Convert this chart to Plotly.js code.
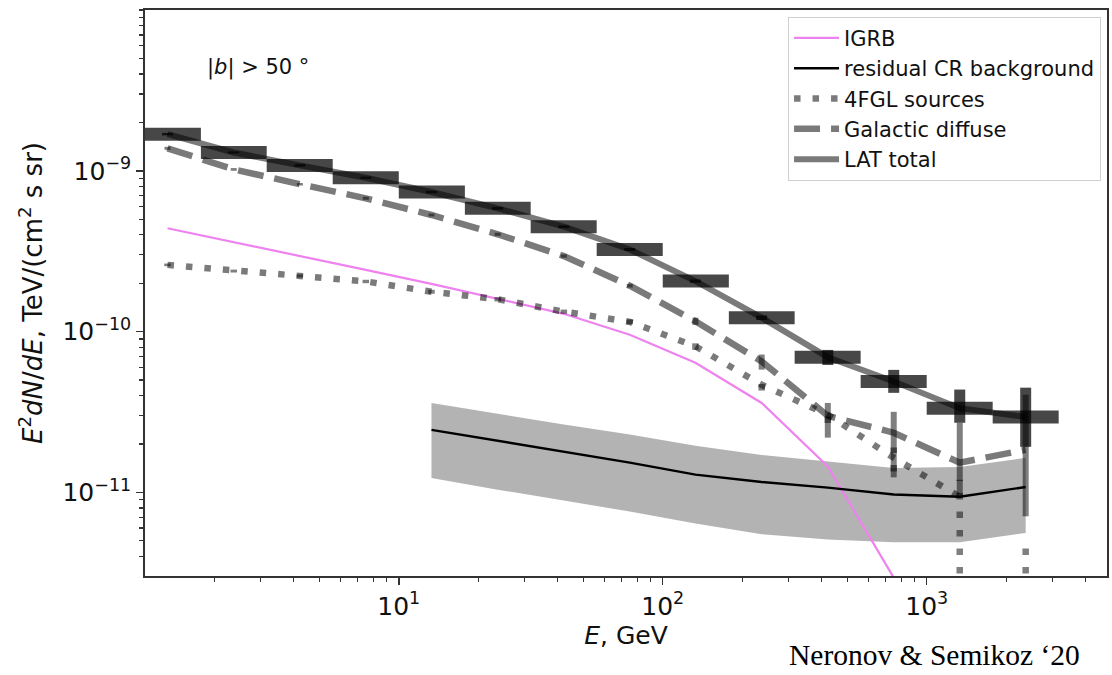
<!DOCTYPE html>
<html>
<head>
<meta charset="utf-8">
<script src="https://cdn.plot.ly/plotly-3.0.1.min.js"></script>
<style>html,body{margin:0;padding:0;background:#fff;}#chart{width:1112px;height:675px;}</style>
</head>
<body>
<div id="chart"></div>
<script>
// Energy bins (GeV): centres and bin edges
const E      = [1.33, 2.37, 4.22, 7.50, 13.3, 23.7, 42.2, 75.0, 133, 237, 422, 750, 1334, 2371];
const binLo  = [1.00, 1.78, 3.16, 5.62, 10.0, 17.8, 31.6, 56.2, 100, 178, 316, 562, 1000, 1778];
const binHi  = [1.78, 3.16, 5.62, 10.0, 17.8, 31.6, 56.2, 100, 178, 316, 562, 1000, 1778, 3162];

// LAT total
const latTotal = [1.69e-9, 1.30e-9, 1.08e-9, 9.05e-10, 7.38e-10, 5.84e-10, 4.49e-10, 3.24e-10, 2.06e-10, 1.22e-10, 6.93e-11, 4.89e-11, 3.34e-11, 2.94e-11];
const latLo    = [1.66e-9, 1.28e-9, 1.06e-9, 8.90e-10, 7.25e-10, 5.73e-10, 4.40e-10, 3.17e-10, 2.01e-10, 1.18e-10, 6.20e-11, 4.16e-11, 2.71e-11, 1.92e-11];
const latHi    = [1.72e-9, 1.32e-9, 1.10e-9, 9.20e-10, 7.51e-10, 5.95e-10, 4.58e-10, 3.31e-10, 2.11e-10, 1.26e-10, 7.69e-11, 5.78e-11, 4.36e-11, 4.48e-11];

// Galactic diffuse
const galDiff = [1.38e-9, 1.02e-9, 8.26e-10, 6.74e-10, 5.31e-10, 4.03e-10, 2.95e-10, 1.93e-10, 1.16e-10, 6.52e-11, 2.99e-11, 2.35e-11, 1.53e-11, 1.84e-11];
const galLo   = [1.35e-9, 1.00e-9, 8.10e-10, 6.60e-10, 5.20e-10, 3.94e-10, 2.88e-10, 1.88e-10, 1.10e-10, 5.80e-11, 2.19e-11, 1.24e-11, 9.4e-12, 7.1e-12];
const galHi   = [1.41e-9, 1.04e-9, 8.40e-10, 6.90e-10, 5.42e-10, 4.12e-10, 3.02e-10, 1.98e-10, 1.22e-10, 7.20e-11, 3.60e-11, 3.17e-11, 2.71e-11, 4.05e-11];

// 4FGL sources
const fgl   = [2.60e-10, 2.38e-10, 2.22e-10, 2.05e-10, 1.77e-10, 1.59e-10, 1.33e-10, 1.15e-10, 8.1e-11, 4.67e-11, 3.04e-11, 1.64e-11, 9.4e-12, null];
const fglLo = [2.55e-10, 2.33e-10, 2.17e-10, 2.00e-10, 1.72e-10, 1.54e-10, 1.29e-10, 1.11e-10, 7.7e-11, 4.30e-11, 2.70e-11, 1.35e-11, 1e-13, 1e-13];
const fglHi = [2.65e-10, 2.43e-10, 2.27e-10, 2.10e-10, 1.82e-10, 1.64e-10, 1.37e-10, 1.19e-10, 8.5e-11, 5.00e-11, 3.40e-11, 1.90e-11, 1.2e-11, 5.3e-12];

// IGRB
const igrbE = [1.33, 2.37, 4.22, 7.50, 13.3, 23.7, 42.2, 75.0, 133, 237, 422, 750];
const igrb  = [4.39e-10, 3.61e-10, 2.95e-10, 2.42e-10, 1.98e-10, 1.60e-10, 1.29e-10, 9.55e-11, 6.4e-11, 3.6e-11, 1.45e-11, 2.95e-12];

// Residual CR background
const crE  = [13.3, 23.7, 42.2, 75.0, 133, 237, 422, 750, 1334, 2371];
const cr   = [2.45e-11, 2.09e-11, 1.79e-11, 1.53e-11, 1.29e-11, 1.16e-11, 1.07e-11, 9.7e-12, 9.4e-12, 1.08e-11];
const crLo = [1.23e-11, 1.04e-11, 8.9e-12, 7.6e-12, 6.4e-12, 5.5e-12, 5.1e-12, 4.9e-12, 4.9e-12, 5.6e-12];
const crHi = [3.60e-11, 3.08e-11, 2.64e-11, 2.29e-11, 1.95e-11, 1.71e-11, 1.55e-11, 1.42e-11, 1.44e-11, 1.64e-11];

// Tick labels
const xTickVals = [10, 100, 1000];
const xTickText = ['10<sup>1</sup>', '10<sup>2</sup>', '10<sup>3</sup>'];
const yTickVals = [1e-11, 1e-10, 1e-9];
const yTickText = ['10<sup>\u221211</sup>', '10<sup>\u221210</sup>', '10<sup>\u22129</sup>'];

function segments(xs, lo, hi) {
  const x = [], y = [];
  for (let i = 0; i < xs.length; i++) {
    if (lo[i] == null || hi[i] == null) continue;
    x.push(xs[i], xs[i], null);
    y.push(lo[i], hi[i], null);
  }
  return {x, y};
}

const galSeg = segments(E, galLo, galHi);
const fglSeg = segments(E, fglLo, fglHi);

const traces = [
  // residual CR band
  {x: crE, y: crLo, mode: 'lines', line: {width: 0, color: 'rgba(0,0,0,0)'}, showlegend: false, hoverinfo: 'skip'},
  {x: crE, y: crHi, mode: 'lines', line: {width: 0, color: 'rgba(0,0,0,0)'}, fill: 'tonexty', fillcolor: 'rgb(179,179,179)', showlegend: false, hoverinfo: 'skip'},
  // IGRB
  {x: igrbE, y: igrb, mode: 'lines', name: 'IGRB', line: {color: '#EE82EE', width: 2.2}, legendgroup: 'g1'},
  // residual CR line
  {x: crE, y: cr, mode: 'lines', name: 'residual CR background', line: {color: '#000', width: 2.4}, legendgroup: 'g2'},
  // 4FGL
  {x: fglSeg.x, y: fglSeg.y, mode: 'lines', line: {color: 'rgba(0,0,0,0.5)', width: 6.5, dash: '6.5px,12px'}, showlegend: false, hoverinfo: 'skip', legendgroup: 'g3'},
  {x: E, y: fgl, mode: 'lines', name: '4FGL sources', line: {color: 'rgba(0,0,0,0.52)', width: 6.5, dash: '6.5px,12px'}, legendgroup: 'g3'},
  // Galactic diffuse
  {x: galSeg.x, y: galSeg.y, mode: 'lines', line: {color: 'rgba(0,0,0,0.5)', width: 6}, showlegend: false, hoverinfo: 'skip', legendgroup: 'g4'},
  {x: E, y: galDiff, mode: 'lines', name: 'Galactic diffuse', line: {color: 'rgba(0,0,0,0.52)', width: 6.5, dash: '26px,11px'}, legendgroup: 'g4'},
  // LAT total
  {x: E, y: latTotal, mode: 'lines', name: 'LAT total', line: {color: 'rgba(0,0,0,0.52)', width: 6}, legendgroup: 'g5',
   error_x: {type: 'data', symmetric: false, array: E.map((e, i) => binHi[i] - e), arrayminus: E.map((e, i) => e - binLo[i]), thickness: 13, width: 0, color: 'rgba(0,0,0,0.72)'},
   error_y: {type: 'data', symmetric: false, array: latTotal.map((v, i) => latHi[i] - v), arrayminus: latTotal.map((v, i) => v - latLo[i]), thickness: 11, width: 0, color: 'rgba(0,0,0,0.72)'}}
];

const axisCommon = {
  showgrid: false, zeroline: false, showline: true, linecolor: '#333', linewidth: 1.8, mirror: true,
  ticks: 'outside', ticklen: 7, tickwidth: 1.5, tickcolor: '#333', tickmode: 'array',
  tickfont: {size: 25, family: 'DejaVu Sans', color: '#111'},
  minor: {ticks: 'outside', ticklen: 4, tickwidth: 1.2, tickcolor: '#333', dtick: 'D1', showgrid: false}
};

const layout = {
  width: 1112, height: 675,
  margin: {l: 145, r: 5, t: 10, b: 99},
  paper_bgcolor: '#fff', plot_bgcolor: '#fff',
  font: {family: 'DejaVu Sans', color: '#111', size: 20},
  xaxis: Object.assign({}, axisCommon, {
    type: 'log', range: [0.0386, 3.683], tickvals: xTickVals, ticktext: xTickText,
    title: {text: '<i>E</i>, GeV', font: {size: 25}, standoff: 4}
  }),
  yaxis: Object.assign({}, axisCommon, {
    type: 'log', range: [-11.52, -8.0], tickvals: yTickVals, ticktext: yTickText,
    title: {text: '<i>E</i><sup>2</sup><i>dN</i>/<i>dE</i>, TeV/(cm<sup>2</sup> s sr)', font: {size: 26}, standoff: 12}
  }),
  legend: {x: 0.9938, xanchor: 'right', y: 0.988, yanchor: 'top', bgcolor: '#fff', bordercolor: '#d0d0d0', borderwidth: 1,
           font: {size: 21, family: 'DejaVu Sans', color: '#111'}, traceorder: 'grouped', tracegroupgap: 0, itemwidth: 45},
  annotations: [
    {xref: 'paper', yref: 'paper', x: 0.0624, y: 0.899, xanchor: 'left', yanchor: 'middle', showarrow: false,
     text: '|<i>b</i>| > 50 \u00b0', font: {size: 21, family: 'DejaVu Sans', color: '#111'}},
    {xref: 'paper', yref: 'paper', x: 0.974, y: -0.1714, xanchor: 'right', yanchor: 'bottom', showarrow: false,
     text: 'Neronov &amp; Semikoz \u201820', font: {size: 29.5, family: 'Liberation Serif', color: '#000'}}
  ]
};

Plotly.newPlot('chart', traces, layout, {displayModeBar: false, staticPlot: true});
</script>
</body>
</html>
